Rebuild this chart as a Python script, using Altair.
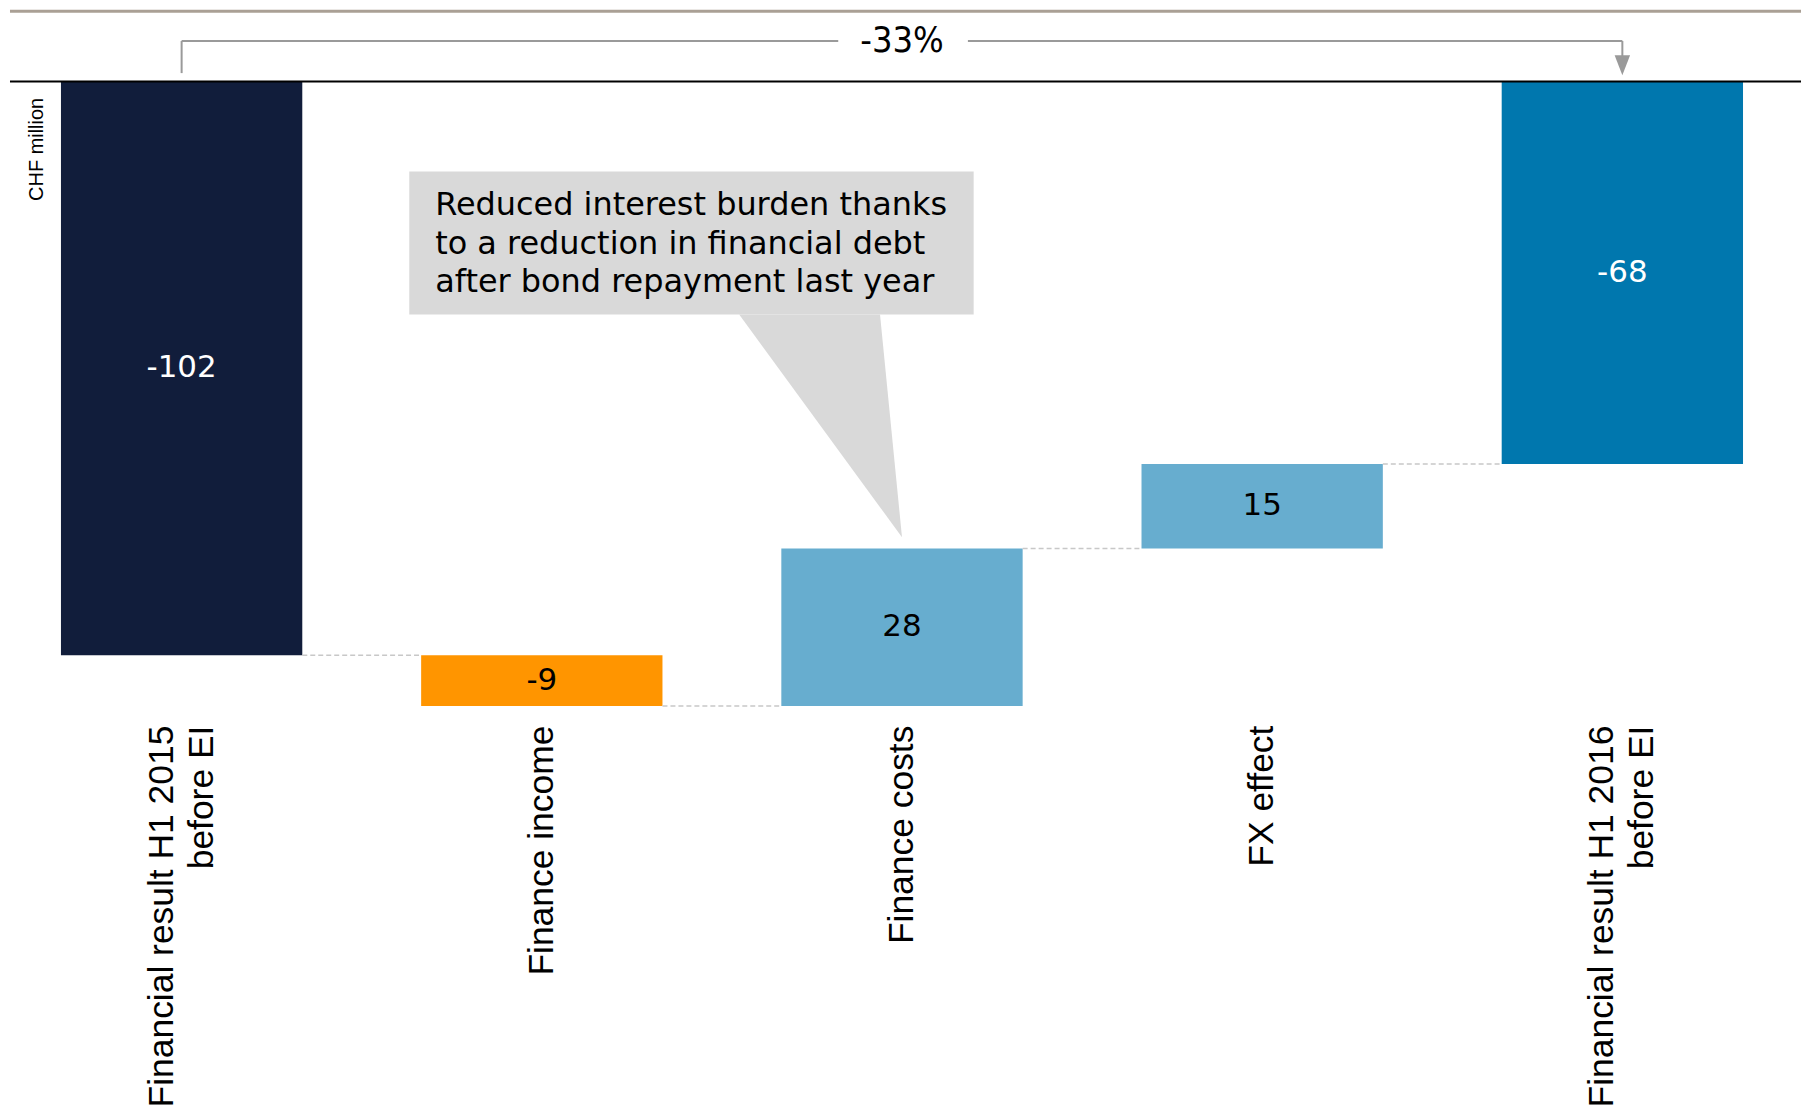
import altair as alt
import pandas as pd

# ---- data ----
categories = ["Financial result H1 2015|before EI", "Finance income", "Finance costs",
              "FX effect", "Financial result H1 2016|before EI"]
values = [-102, -9, 28, 15, -68]
kinds = ["total", "delta", "delta", "delta", "total"]
bar_colors = ["#111d3b", "#ff9500", "#67adcf", "#67adcf", "#0077ae"]
text_colors = ["white", "black", "black", "black", "white"]
change_label = "-33%"
unit_label = "CHF million"
callout_lines = ["Reduced interest burden thanks",
                 "to a reduction in financial debt",
                 "after bond repayment last year"]

# ---- layout constants ----
XDOM = [-0.4765, 4.496]
YDOM = [-112.9, 12.5]
W, H = 1795, 707
PX_Y = H / (YDOM[1] - YDOM[0])
PX_X = W / (XDOM[1] - XDOM[0])
HALF = 0.335

xs = alt.Scale(domain=XDOM, nice=False, zero=False)
ys = alt.Scale(domain=YDOM, nice=False, zero=False)


def X(f):
    return alt.X(f, type="quantitative", scale=xs, axis=None)


def Y(f):
    return alt.Y(f, type="quantitative", scale=ys, axis=None)


# ---- waterfall computation ----
rows = []
running = 0
for i, (c, v, k) in enumerate(zip(categories, values, kinds)):
    if k == "total":
        start, end = 0, v
    else:
        start, end = running, running + v
    running = end
    rows.append(dict(idx=i, key="b%d" % i, x=i - HALF, x2=i + HALF, start=start, end=end,
                     mid=(start + end) / 2, label=str(v), tcolor=text_colors[i]))
bars_df = pd.DataFrame(rows)

conn_df = pd.DataFrame([dict(x=rows[i]["x2"], x2=rows[i + 1]["x"], y=rows[i]["end"])
                        for i in range(len(rows) - 1)])

# category labels (rotated, possibly two lines)
LINE_H = 40
lab_rows = []
for i, c in enumerate(categories):
    parts = c.split("|")
    n = len(parts)
    for j, p in enumerate(parts):
        off = (j - (n - 1) / 2) * LINE_H / PX_X
        lab_rows.append(dict(x=i + off, y=YDOM[0] - 9 / PX_Y, t=p))
lab_df = pd.DataFrame(lab_rows)

base = alt.Chart(bars_df)

bars = base.mark_rect().encode(
    x=X("x"), x2="x2", y=Y("start"), y2="end",
    color=alt.Color("key:N", scale=alt.Scale(domain=list(bars_df["key"]), range=bar_colors),
                    legend=None),
)


def value_text(col):
    return base.transform_filter(alt.datum.tcolor == col).mark_text(
        font="DejaVu Sans", fontSize=31, baseline="middle", align="center", color=col
    ).encode(x=X("idx"), y=Y("mid"), text="label:N")


text_white = value_text("white")
text_black = value_text("black")

cat_labels = alt.Chart(lab_df).mark_text(
    font="Liberation Sans", fontSize=35.5, angle=270, align="right", baseline="middle", color="black"
).encode(x=X("x"), y=Y("y"), text="t:N")

connectors = alt.Chart(conn_df).mark_rule(color="#c8c8c8", strokeWidth=1.5, strokeDash=[5, 3]).encode(
    x=X("x"), x2="x2", y=Y("y")
)

zero_line = alt.Chart(pd.DataFrame({"a": [XDOM[0]], "b": [XDOM[1]], "y": [0]})).mark_rule(
    color="black", strokeWidth=2).encode(x=X("a"), x2="b", y=Y("y"))

top_border = alt.Chart(pd.DataFrame({"a": [XDOM[0]], "b": [XDOM[1]], "y": [YDOM[1]]})).mark_rule(
    color="#aaa095", strokeWidth=3).encode(x=X("a"), x2="b", y=Y("y"))

# bracket with -33%
BR_Y = 7.2
hseg = pd.DataFrame([
    dict(x=0, x2=1.823, y=BR_Y),
    dict(x=2.183, x2=4.0, y=BR_Y),
])
vseg = pd.DataFrame([
    dict(x=0, y=1.5, y2=BR_Y),
    dict(x=4.0, y=3.2, y2=BR_Y),
])
bracket_h = alt.Chart(hseg).mark_rule(color="#9a9a9a", strokeWidth=2).encode(
    x=X("x"), x2="x2", y=Y("y"))
bracket_v = alt.Chart(vseg).mark_rule(color="#9a9a9a", strokeWidth=2).encode(
    x=X("x"), y=Y("y"), y2="y2")
arrow = alt.Chart(pd.DataFrame({"x": [4.0], "y": [2.9]})).mark_point(
    shape="M-1,-1.3L1,-1.3L0,1.3Z", size=240, filled=True, color="#9a9a9a", opacity=1, strokeWidth=0
).encode(x=X("x"), y=Y("y"))
pct = alt.Chart(pd.DataFrame({"x": [2.0], "y": [BR_Y], "t": [change_label]})).mark_text(
    font="Liberation Sans Narrow, Arial Narrow, DejaVu Sans Condensed, sans-serif", fontSize=36,
    baseline="middle", align="center", color="black"
).encode(x=X("x"), y=Y("y"), text="t:N")

unit = alt.Chart(pd.DataFrame({"x": [-0.402], "y": [-2.9], "t": [unit_label]})).mark_text(
    font="Liberation Sans", fontSize=20, angle=270, align="right", baseline="middle", color="black"
).encode(x=X("x"), y=Y("y"), text="t:N")

# callout
box = alt.Chart(pd.DataFrame({"x": [0.632], "x2": [2.199], "y": [-16.0], "y2": [-41.4]})).mark_rect(
    color="#d9d9d9").encode(x=X("x"), x2="x2", y=Y("y"), y2="y2")
tri_df = pd.DataFrame({"x": [1.548, 1.939, 2.0],
                       "ya": [-41.4, -41.4, -81.0],
                       "yb": [-41.4, -75.66, -81.0]})
tri = alt.Chart(tri_df).mark_area(color="#d9d9d9").encode(
    x=X("x"), y=Y("ya"), y2="yb")
LINE_STEP = 39 / PX_Y
ct_df = pd.DataFrame({"t": callout_lines, "x": [0.704] * 3,
                      "y": [-28.8 + LINE_STEP * (1 - k) for k in range(len(callout_lines))]})
callout_text = alt.Chart(ct_df).mark_text(
    font="DejaVu Sans", fontSize=32, align="left", baseline="middle", color="black"
).encode(x=X("x"), y=Y("y"), text="t:N")

chart = alt.layer(
    top_border, bars, connectors, text_white, text_black, cat_labels, zero_line,
    bracket_h, bracket_v, arrow, pct, unit, tri, box, callout_text
).properties(
    width=W, height=H, padding=0, background="white"
).configure_view(strokeWidth=0)

chart.save("out.html", embed_options={"renderer": "svg", "actions": False})
